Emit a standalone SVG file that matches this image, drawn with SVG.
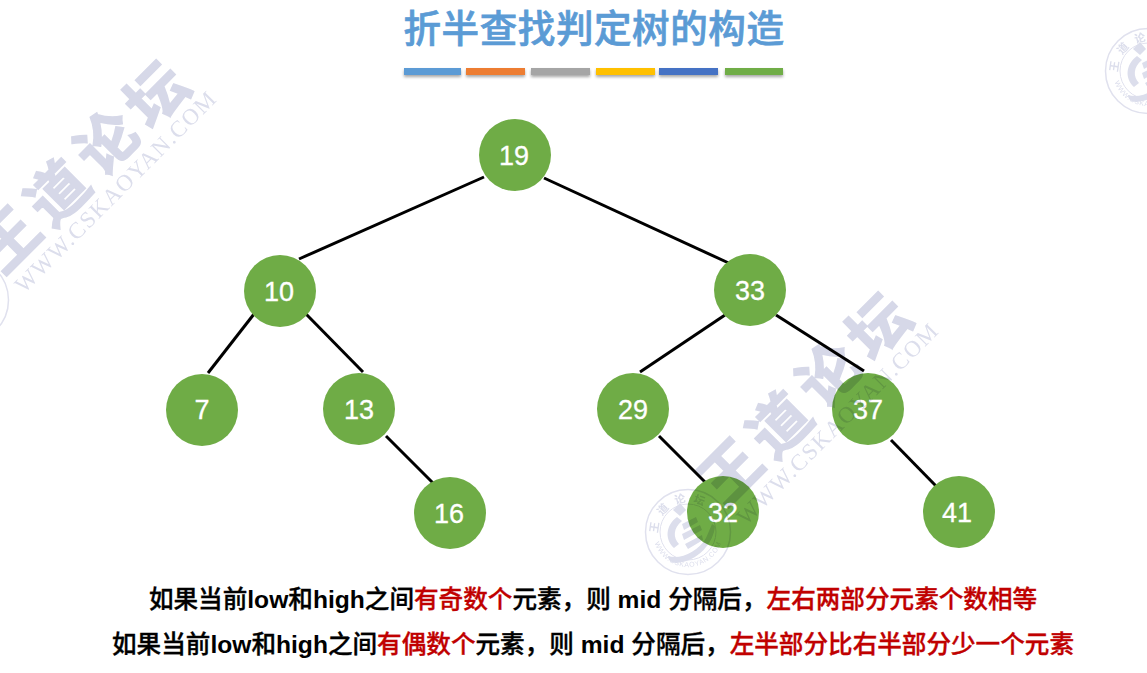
<svg xmlns="http://www.w3.org/2000/svg" xmlns:xlink="http://www.w3.org/1999/xlink" width="1147" height="673" viewBox="0 0 1147 673">
<defs>
<style>
text{font-family:"Liberation Sans","Noto Sans CJK SC",sans-serif}
.edge{stroke:#000;stroke-width:3;fill:none}
.node{fill:#6fac46}
.lbl{fill:#fff;font-size:27px;text-anchor:middle;stroke:#fff;stroke-width:.3px}
.title{fill:#5b9bd5;stroke:#5b9bd5;stroke-width:.7px;font-size:37.5px;font-weight:500;text-anchor:middle;letter-spacing:.6px}
.cap{fill:#000;stroke:#000;stroke-width:.35px;font-size:24.6px;font-weight:500;text-anchor:middle}
.lat{font-weight:700;stroke-width:0}
.red{fill:#c00000;stroke:#c00000}
.wm{mix-blend-mode:multiply}
.wmc{fill:#d6d8e8;stroke:#d6d8e8;stroke-width:1.5px;font-size:60px;font-weight:700;text-anchor:middle}
.wmu{fill:#dcdeec;font-family:"Liberation Serif",serif;font-size:23px;letter-spacing:1.4px}
.sr{fill:none;stroke:#e0e1ee}
.sc{fill:#dcdeec;font-size:11px;font-weight:700;text-anchor:middle}
.ss{fill:#dcdeec}
</style>
<filter id="sh" x="-10%" y="-50%" width="120%" height="250%"><feDropShadow dx="0" dy="2" stdDeviation="1.5" flood-color="#000" flood-opacity=".35"/></filter>
<path id="sealarc" d="M-35 0A35 35 0 0 0 35 0"/>
<g id="seal">
<circle class="sr" r="42.5" stroke-width="1.5"/>
<circle class="sr" r="28" stroke-width="1"/>
<text class="sc" transform="rotate(-82) translate(0,-30)">王</text>
<text class="sc" transform="rotate(-48) translate(0,-30)">道</text>
<text class="sc" transform="rotate(-14) translate(0,-30)">论</text>
<text class="sc" transform="rotate(20) translate(0,-30)">坛</text>
<path class="ss" d="M-15 -22L-8 -29L-2 -22L-8 -16Z"/>
<path class="ss" d="M-11 -15C-23 -6 -23 8 -14 16L-9 12C-15 6 -15 -4 -6 -11Z"/>
<path class="ss" d="M-20 24C-8 28 10 20 18 6L24 -8L27 -6C26 10 10 30 -12 31C-17 31 -20 28 -20 24Z"/>
<path class="ss" d="M-6 -8L8 -15L10 -10L-4 -2ZM-6 2L12 -7L14 -2L-4 8ZM-3 12L14 3L15 8L0 17Z"/>
<text style="font-size:7px;fill:#dcdeec;letter-spacing:.6px;text-anchor:middle"><textPath xlink:href="#sealarc" href="#sealarc" startOffset="50%">WWW.CSKAOYAN.COM</textPath></text>
</g>
<g id="mark">
<text class="wmc" transform="translate(24,255) rotate(-45)">王</text>
<text class="wmc" transform="translate(73,208) rotate(-45)">道</text>
<text class="wmc" transform="translate(122,158) rotate(-45)">论</text>
<text class="wmc" transform="translate(172,110) rotate(-45)">坛</text>
<text class="wmu" transform="translate(24,294) rotate(-45)">WWW.CSKAOYAN.COM</text>
<use href="#seal" x="-34" y="300"/>
</g>
</defs>
<rect width="1147" height="673" fill="#fff"/>
<text class="title" x="594" y="42">折半查找判定树的构造</text>
<g id="title-bars" filter="url(#sh)">
<rect x="404" y="68" width="57" height="7" fill="#5b9bd5"/>
<rect x="466" y="68" width="59" height="7" fill="#ed7d31"/>
<rect x="531" y="68" width="59" height="7" fill="#a5a5a5"/>
<rect x="596" y="68" width="59" height="7" fill="#ffc000"/>
<rect x="659" y="68" width="59" height="7" fill="#4472c4"/>
<rect x="725" y="68" width="58" height="7" fill="#70ad47"/>
</g>
<g id="connectors">
<line class="edge" x1="484" y1="177" x2="299" y2="259"/>
<line class="edge" x1="544" y1="178" x2="733" y2="265"/>
<line class="edge" x1="254" y1="314" x2="208" y2="373"/>
<line class="edge" x1="306" y1="314" x2="363" y2="372"/>
<line class="edge" x1="386" y1="436" x2="434" y2="484"/>
<line class="edge" x1="725" y1="315" x2="640" y2="372"/>
<line class="edge" x1="776" y1="315" x2="864" y2="371"/>
<line class="edge" x1="659" y1="436" x2="705" y2="482"/>
<line class="edge" x1="891" y1="440" x2="936" y2="486"/>
</g>
<g id="n19"><circle class="node" cx="515" cy="155" r="36"/><text class="lbl" x="514" y="165">19</text></g>
<g id="n10"><circle class="node" cx="280" cy="291" r="36"/><text class="lbl" x="279" y="301">10</text></g>
<g id="n33"><circle class="node" cx="750" cy="290" r="36"/><text class="lbl" x="750" y="300">33</text></g>
<g id="n7"><circle class="node" cx="202" cy="410" r="36"/><text class="lbl" x="202" y="419">7</text></g>
<g id="n13"><circle class="node" cx="359" cy="409" r="36"/><text class="lbl" x="359" y="419">13</text></g>
<g id="n29"><circle class="node" cx="633" cy="409" r="36"/><text class="lbl" x="633" y="419">29</text></g>
<g id="n37"><circle class="node" cx="868" cy="409" r="36"/><text class="lbl" x="868" y="419">37</text></g>
<g id="n16"><circle class="node" cx="450" cy="513" r="36"/><text class="lbl" x="449" y="523">16</text></g>
<g id="n32"><circle class="node" cx="723" cy="512" r="36"/><text class="lbl" x="723" y="522">32</text></g>
<g id="n41"><circle class="node" cx="959" cy="512" r="36"/><text class="lbl" x="957" y="522">41</text></g>
<g id="watermarks" class="wm">
<use href="#mark"/>
<use href="#mark" x="722" y="232"/>
<use href="#seal" x="1148" y="71"/>
</g>
<text class="cap" x="593" y="608">如果当前<tspan class="lat">low</tspan>和<tspan class="lat">high</tspan>之间<tspan class="red">有奇数个</tspan>元素，则 <tspan class="lat">mid</tspan> 分隔后，<tspan class="red">左右两部分元素个数相等</tspan></text>
<text class="cap" x="593" y="653">如果当前<tspan class="lat">low</tspan>和<tspan class="lat">high</tspan>之间<tspan class="red">有偶数个</tspan>元素，则 <tspan class="lat">mid</tspan> 分隔后，<tspan class="red">左半部分比右半部分少一个元素</tspan></text>
</svg>
